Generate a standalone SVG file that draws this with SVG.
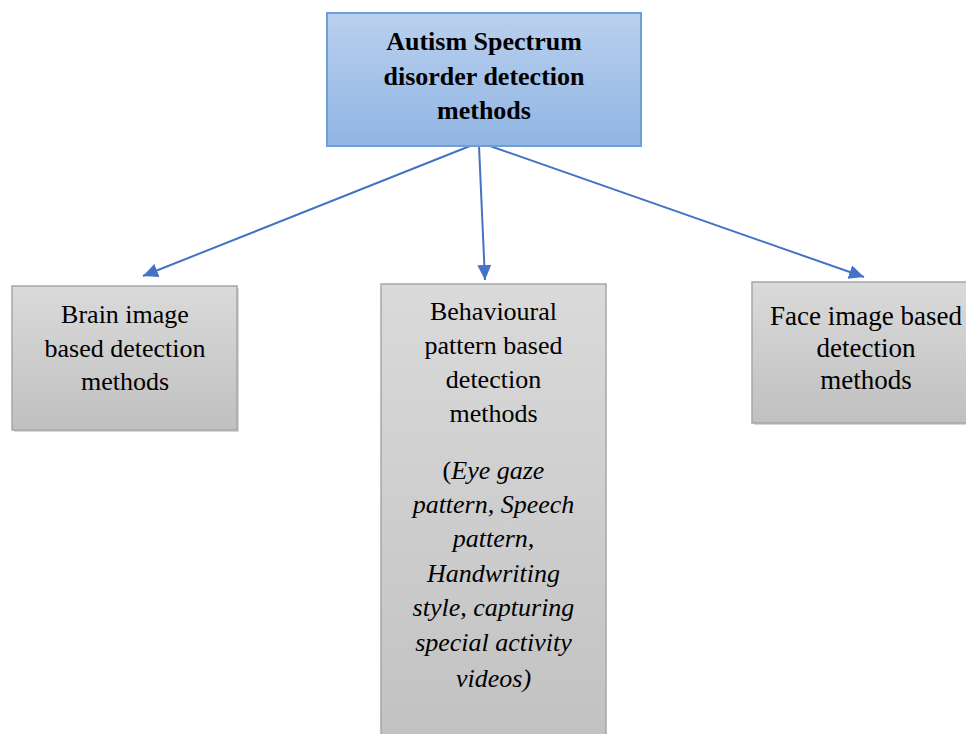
<svg xmlns="http://www.w3.org/2000/svg" width="966" height="734" viewBox="0 0 966 734">
  <defs>
    <linearGradient id="blueGrad" x1="0" y1="0" x2="0" y2="1">
      <stop offset="0" stop-color="#bad0ee"/>
      <stop offset="1" stop-color="#90b5e3"/>
    </linearGradient>
    <linearGradient id="grayGrad" x1="0" y1="0" x2="0" y2="1">
      <stop offset="0" stop-color="#dadada"/>
      <stop offset="1" stop-color="#c0c0c0"/>
    </linearGradient>
    <linearGradient id="grayGradTall" gradientUnits="userSpaceOnUse" x1="0" y1="284" x2="0" y2="734">
      <stop offset="0" stop-color="#dadada"/>
      <stop offset="1" stop-color="#c2c2c2"/>
    </linearGradient>
    <marker id="arrow" markerUnits="userSpaceOnUse" markerWidth="18" markerHeight="16" refX="15" refY="7" orient="auto">
      <path d="M0,0 L15,7 L0,14 Z" fill="#4472c4"/>
    </marker>
    <style>
      .box-blue { fill: url(#blueGrad); stroke: #6f9fd8; stroke-width: 2; }
      .box-gray { fill: url(#grayGrad); stroke: #a6a6a6; stroke-width: 1.5; }
      .shadow { fill: #b0b0b0; opacity: 0.5; }
      .title { font-family: "Liberation Serif", "Times New Roman", serif; font-size: 26px; font-weight: bold; fill: #000; text-anchor: middle; }
      .label { font-family: "Liberation Serif", "Times New Roman", serif; font-size: 26px; fill: #000; text-anchor: middle; }
      .ital { font-style: italic; }
      .conn { stroke: #4472c4; stroke-width: 2; fill: none; marker-end: url(#arrow); }
    </style>
  </defs>
  <rect width="966" height="734" fill="#ffffff"/>

  <g id="connectors">
    <line class="conn" x1="470" y1="146" x2="143" y2="276"/>
    <line class="conn" x1="479" y1="146" x2="485" y2="280"/>
    <line class="conn" x1="490" y1="146" x2="864" y2="277"/>
  </g>

  <g id="node-root">
    <rect class="box-blue" x="327" y="13" width="314" height="133"/>
    <text class="title" x="484" y="50">Autism Spectrum</text>
    <text class="title" x="484" y="85">disorder detection</text>
    <text class="title" x="484" y="119">methods</text>
  </g>

  <g id="node-brain">
    <rect class="shadow" x="14" y="288" width="225" height="144"/>
    <rect class="box-gray" x="12" y="286" width="225" height="144"/>
    <text class="label" x="125" y="323">Brain image</text>
    <text class="label" x="125" y="357">based detection</text>
    <text class="label" x="125" y="390">methods</text>
  </g>

  <g id="node-behaviour">
    <rect class="box-gray" x="381" y="284" width="225" height="460" style="fill:url(#grayGradTall)"/>
    <text class="label" x="493.5" y="320">Behavioural</text>
    <text class="label" x="493.5" y="354">pattern based</text>
    <text class="label" x="493.5" y="388">detection</text>
    <text class="label" x="493.5" y="422">methods</text>
    <text class="label" x="493.5" y="479">(<tspan class="ital">Eye gaze</tspan></text>
    <text class="label ital" x="493.5" y="513">pattern, Speech</text>
    <text class="label ital" x="493.5" y="547">pattern,</text>
    <text class="label ital" x="493.5" y="582">Handwriting</text>
    <text class="label ital" x="493.5" y="616">style, capturing</text>
    <text class="label ital" x="493.5" y="651">special activity</text>
    <text class="label ital" x="493.5" y="687">videos)</text>
  </g>

  <g id="node-face">
    <rect class="shadow" x="754" y="284" width="230" height="141"/>
    <rect class="box-gray" x="752" y="282" width="230" height="141"/>
    <text class="label" x="866" y="325" style="font-size:27px">Face image based</text>
    <text class="label" x="866" y="357" style="font-size:27px">detection</text>
    <text class="label" x="866" y="389" style="font-size:27px">methods</text>
  </g>
</svg>
